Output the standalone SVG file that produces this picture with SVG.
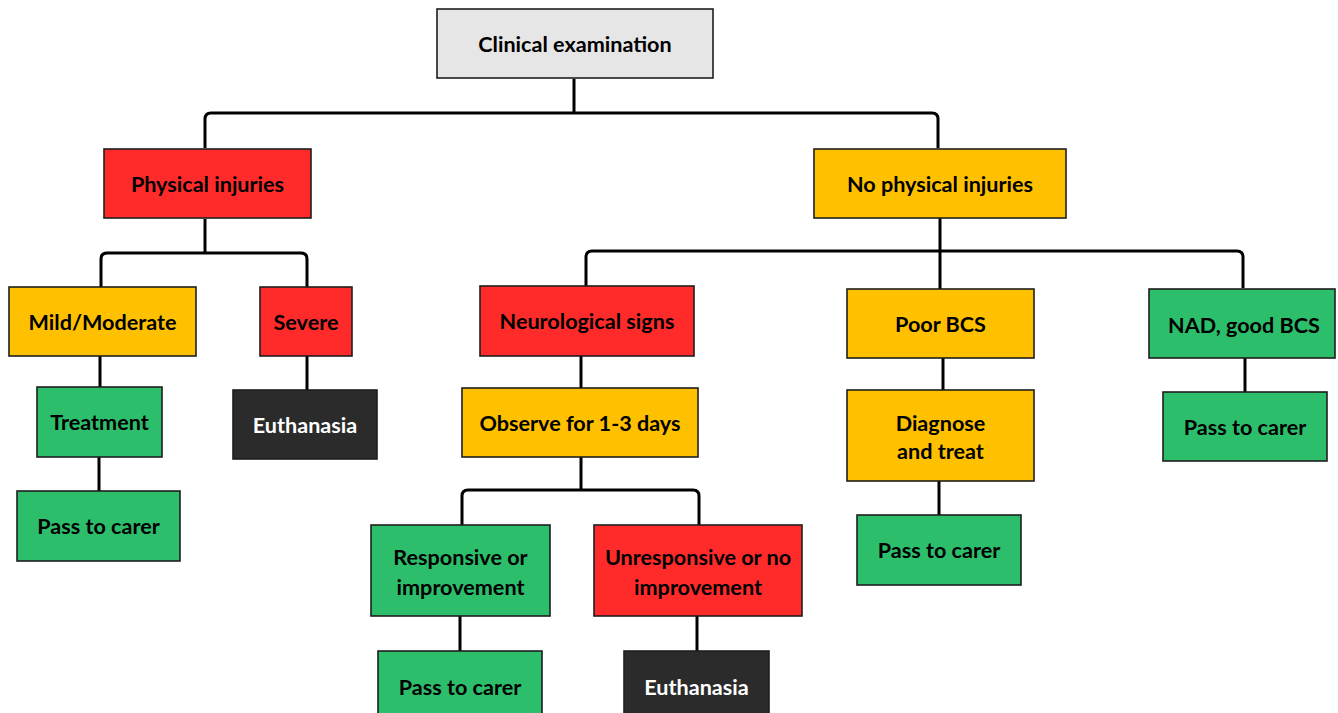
<svg xmlns="http://www.w3.org/2000/svg" width="1338" height="713" viewBox="0 0 1338 713">
<style>
.b{stroke:#1e1e1e;stroke-width:1.6}
.g{fill:#e6e6e6}.r{fill:#ff2b2b}.o{fill:#ffc000}.n{fill:#2dbe6c}.d{fill:#2b2b2b}
text{font-family:Lato,"Open Sans","Liberation Sans",sans-serif;font-weight:bold;font-size:21.6px;fill:#000;text-anchor:middle}
text.w{fill:#fff}
#connectors path{fill:none;stroke:#000;stroke-width:3}
</style>
<rect width="1338" height="713" fill="#fff"/>
<g id="connectors">
<path d="M574,79 V113"/>
<path d="M205,148 V119 Q205,113 211,113 H932 Q938,113 938,119 V148"/>
<path d="M205,219 V253"/>
<path d="M101,287 V259 Q101,253 107,253 H301 Q307,253 307,259 V287"/>
<path d="M940,218 V289"/>
<path d="M586,286 V257 Q586,251 592,251 H1237 Q1243,251 1243,257 V288"/>
<path d="M100,356 V387"/>
<path d="M307,356 V390"/>
<path d="M99,457 V491"/>
<path d="M581,356 V388"/>
<path d="M581,457 V490"/>
<path d="M462,525 V496 Q462,490 468,490 H693 Q699,490 699,496 V525"/>
<path d="M460,616 V651"/>
<path d="M697,616 V651"/>
<path d="M943,358 V390"/>
<path d="M939,481 V515"/>
<path d="M1245,358 V392"/>
</g>
<g id="root"><rect class="b g" x="437" y="9" width="276" height="69"/><text x="575" y="52">Clinical examination</text></g>
<g id="phys"><rect class="b r" x="104" y="149" width="207" height="69"/><text x="207.5" y="192">Physical injuries</text></g>
<g id="nophys"><rect class="b o" x="814" y="149" width="252" height="69"/><text x="940" y="192">No physical injuries</text></g>
<g id="mild"><rect class="b o" x="9" y="287" width="187" height="69"/><text x="102.5" y="330">Mild/Moderate</text></g>
<g id="severe"><rect class="b r" x="260" y="287" width="92" height="69"/><text x="306" y="330">Severe</text></g>
<g id="treatment"><rect class="b n" x="37" y="387" width="125" height="70"/><text x="99.5" y="430">Treatment</text></g>
<g id="euth1"><rect class="b d" x="233" y="390" width="144" height="69"/><text class="w" x="305" y="432.5">Euthanasia</text></g>
<g id="pass1"><rect class="b n" x="17" y="491" width="163" height="70"/><text x="98.5" y="534">Pass to carer</text></g>
<g id="neuro"><rect class="b r" x="480" y="286" width="214" height="70"/><text x="587" y="329">Neurological signs</text></g>
<g id="observe"><rect class="b o" x="462" y="388" width="236" height="69"/><text x="580" y="430.5">Observe for 1-3 days</text></g>
<g id="resp"><rect class="b n" x="371" y="525" width="179" height="91"/><text x="460.5" y="565">Responsive or</text><text x="460.5" y="594.5">improvement</text></g>
<g id="unresp"><rect class="b r" x="594" y="525" width="208" height="91"/><text x="698" y="565">Unresponsive or no</text><text x="698" y="594.5">improvement</text></g>
<g id="pass2"><rect class="b n" x="378" y="651" width="164" height="72"/><text x="460" y="695">Pass to carer</text></g>
<g id="euth2"><rect class="b d" x="624" y="651" width="145" height="72"/><text class="w" x="696.5" y="695">Euthanasia</text></g>
<g id="poor"><rect class="b o" x="847" y="289" width="187" height="69"/><text x="940.5" y="332">Poor BCS</text></g>
<g id="diagnose"><rect class="b o" x="847" y="390" width="187" height="91"/><text x="940.5" y="431">Diagnose</text><text x="940.5" y="459">and treat</text></g>
<g id="pass3"><rect class="b n" x="857" y="515" width="164" height="70"/><text x="939" y="558">Pass to carer</text></g>
<g id="nad"><rect class="b n" x="1149" y="289" width="186" height="69"/><text x="1244" y="332.5">NAD, good BCS</text></g>
<g id="pass4"><rect class="b n" x="1163" y="392" width="164" height="69"/><text x="1245" y="435">Pass to carer</text></g>
</svg>
